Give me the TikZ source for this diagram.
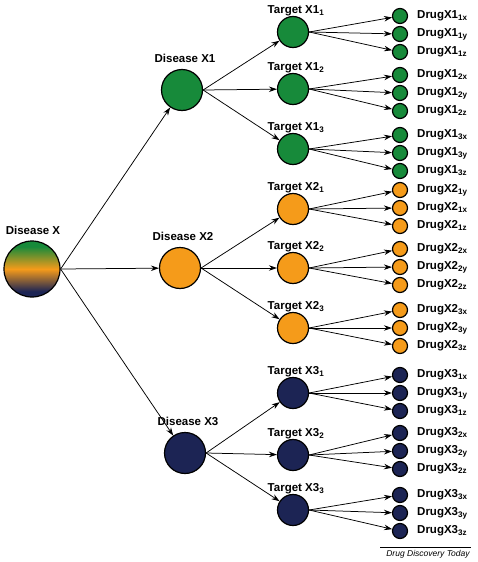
\documentclass[tikz,border=0pt]{standalone}
\usepackage{fontspec}
\setmainfont{Liberation Sans}
\usetikzlibrary{arrows.meta}

\definecolor{dgreen}{RGB}{23,138,58}
\definecolor{dorange}{RGB}{245,155,26}
\definecolor{dnavy}{RGB}{28,36,84}
\pgfdeclareverticalshading{diseasemix}{100bp}{color(0bp)=(dnavy); color(30bp)=(dnavy); color(50bp)=(dorange); color(70bp)=(dgreen); color(100bp)=(dgreen)}

\tikzset{
    blob/.style={circle, draw, line width=1.2pt, inner sep=0pt},
    lab/.style={font=\fontsize{11.5}{13}\selectfont\bfseries, inner sep=1pt},
    arr/.style={-{Stealth[length=8pt,width=5.5pt]}, line width=0.75pt},
}

\begin{document}
\begin{tikzpicture}[x=1pt,y=-1pt]
            \useasboundingbox (0,0) rectangle (478,562);
            % root disease
            \node[blob, shading=diseasemix, minimum size=56pt] (dx) at (32,269) {};
            \node[lab] (ldx) at (33,230) {Disease X};
            % diseases
            \foreach \i/\x/\y/\c in {1/182/90/dgreen, 2/180/268/dorange, 3/185/453/dnavy} {
                \node[blob, fill=\c, minimum size=41pt] (d\i) at (\x,\y) {};
                \node[lab] (ld\i) at (\x+3,\y-32) {Disease X\i};
                \draw[arr] (dx.east) -- (d\i);
            }
            % targets and drugs
            \foreach \i/\j/\ty/\gy/\c/\sa/\sb/\sc in {
                    1/1/32/34/dgreen/x/y/z, 1/2/89/93/dgreen/x/y/z, 1/3/149/153/dgreen/x/y/z,
                    2/1/209/208/dorange/y/x/z, 2/2/268/267/dorange/x/y/z, 2/3/328/328/dorange/x/y/z,
                    3/1/393/393/dnavy/x/y/z, 3/2/455/451/dnavy/x/y/z, 3/3/510/513/dnavy/x/y/z} {
                \node[blob, fill=\c, minimum size=31pt] (t\i\j) at (293,\ty) {};
                \node[lab] (lt\i\j) at (296,\ty-21) {Target X\i\textsubscript{\j}};
                \draw[arr] (d\i.east) -- (t\i\j);
                \foreach \k/\s in {1/\sa, 2/\sb, 3/\sc} {
                    \node[blob, fill=\c, minimum size=15pt] (g\i\j\k) at (400,\gy+18*\k-36) {};
                    \node[lab, anchor=west] (lg\i\j\k) at (416,\gy+18*\k-36) {DrugX\i\textsubscript{\j\s}};
                    \draw[arr] (t\i\j.east) -- (g\i\j\k);
                }
            }
            % journal credit
            \node[font=\fontsize{8.5}{10}\selectfont\itshape, inner sep=1pt] (credit) at (428,554) {Drug Discovery Today};
            \draw[line width=0.5pt] ([xshift=-5pt,yshift=2pt]credit.north west) -- ([xshift=0pt,yshift=2pt]credit.north east);
\end{tikzpicture}
\end{document}
